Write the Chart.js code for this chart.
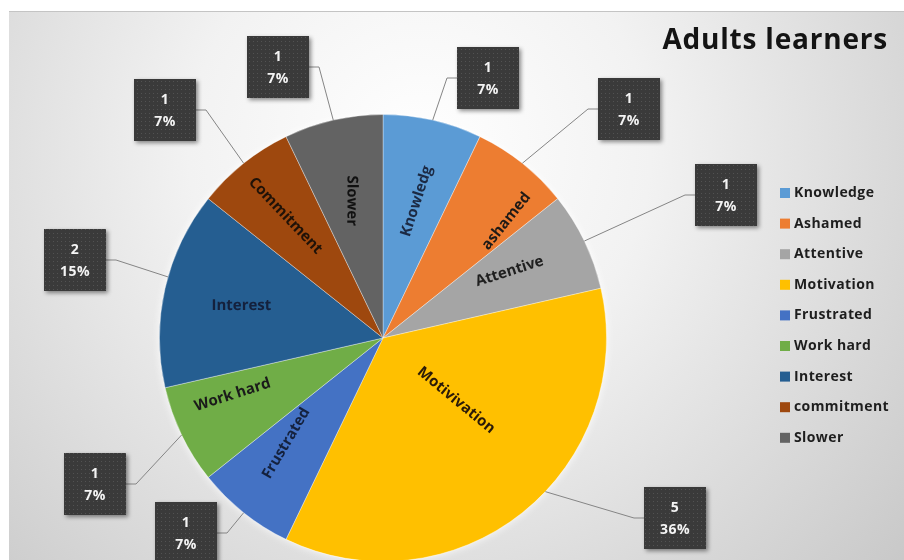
<!DOCTYPE html>
<html><head><meta charset="utf-8">
<script src="https://cdn.jsdelivr.net/npm/chart.js@4.4.1/dist/chart.umd.min.js"></script>
<style>
html,body{margin:0;padding:0;overflow:hidden;background:#fff;}
#wrap{position:relative;width:904px;height:600px;}
</style></head><body>
<div id="wrap"><canvas id="c" width="904" height="600"></canvas></div>
<script>
// ---- data ----
const categories = ['Knowledge','Ashamed','Attentive','Motivation','Frustrated','Work hard','Interest','commitment','Slower'];
const sliceLabels = ['Knowledg','ashamed','Attentive','Motivivation','Frustrated','Work hard','Interest','Commitment','Slower'];
const values = [1,1,1,5,1,1,2,1,1];
const percentLabels = ['7%','7%','7%','36%','7%','7%','15%','7%','7%'];
const titleText = 'Adults learners';

// ---- style ----
const colors = ['#5B9BD5','#ED7D31','#A5A5A5','#FFC000','#4472C4','#70AD47','#255E91','#9E480E','#636363'];
const labelTextColors = ['#1c2a44','#1f1a16','#1f1f1f','#2a1a08','#14213d','#1a1a1a','#14213d','#1f1208','#111111'];
// inside label placement: radial fraction, angular offset (deg), rotation offset (deg)
const labelFrac = [0.63,0.76,0.64,0.43,0.64,0.72,0.65,0.70,0.63];
const labelAngOff = [1,8,-2,-11,4,5,0,0,0];
const labelRotOff = [5,0,8,-12,-8,8,-13,-5,13];
// leader anchor angular offset (deg)
const leaderAngOff = [0,0,0,-8,0,0,3,0,0];
// callout box centres (label placement)
const boxPos = [[488,78],[629,109],[726,195],[675,518],[186,533],[95,484],[75,260],[165,110],[278,67]];
const boxW = 62, boxH = 62;

function makePattern(ctx){
  const p = document.createElement('canvas'); p.width = 4; p.height = 4;
  const g = p.getContext('2d');
  g.fillStyle = '#3a3a3a'; g.fillRect(0,0,4,4);
  g.fillStyle = '#525252'; g.fillRect(1,1,1,1);
  return ctx.createPattern(p,'repeat');
}

const decor = {
  id:'decor',
  beforeDraw(chart){
    const ctx = chart.ctx;
    ctx.save();
    ctx.fillStyle = '#ffffff'; ctx.fillRect(0,0,chart.width,chart.height);
    const g = ctx.createRadialGradient(420,150,0,420,150,660);
    g.addColorStop(0,'#ffffff'); g.addColorStop(0.35,'#f2f2f2'); g.addColorStop(1,'#c6c6c6');
    ctx.fillStyle = g; ctx.fillRect(9,11,895,600);
    ctx.fillStyle = '#c4c4c4'; ctx.fillRect(9,11,895,1);
    ctx.restore();
  },
  beforeDatasetsDraw(chart){
    const a = chart.getDatasetMeta(0).data[0];
    if(!a) return;
    const ctx = chart.ctx;
    ctx.save();
    ctx.shadowColor = 'rgba(255,255,255,0.9)'; ctx.shadowBlur = 8;
    ctx.fillStyle = '#ffffff';
    ctx.beginPath(); ctx.arc(a.x, a.y, a.outerRadius, 0, Math.PI*2); ctx.fill();
    ctx.restore();
  },
  afterDatasetsDraw(chart){
    const ctx = chart.ctx;
    const arcs = chart.getDatasetMeta(0).data;
    ctx.save();
    // inside labels
    arcs.forEach((a,i)=>{
      const mid = (a.startAngle + a.endAngle)/2;
      const pa = mid + labelAngOff[i]*Math.PI/180;
      const r = a.outerRadius*labelFrac[i];
      const x = a.x + Math.cos(pa)*r, y = a.y + Math.sin(pa)*r;
      let rot = mid;
      while(rot > Math.PI) rot -= 2*Math.PI;
      while(rot < -Math.PI) rot += 2*Math.PI;
      if (rot > Math.PI/2) rot -= Math.PI;
      if (rot < -Math.PI/2) rot += Math.PI;
      rot += labelRotOff[i]*Math.PI/180;
      ctx.save();
      ctx.translate(x,y); ctx.rotate(rot);
      ctx.font = 'bold 15px "Open Sans"';
      ctx.fillStyle = labelTextColors[i];
      ctx.textAlign = 'center'; ctx.textBaseline = 'middle';
      ctx.fillText(sliceLabels[i],0,0);
      ctx.restore();
    });
    // leader lines
    ctx.strokeStyle = '#858585'; ctx.lineWidth = 1;
    arcs.forEach((a,i)=>{
      const mid = (a.startAngle + a.endAngle)/2 + leaderAngOff[i]*Math.PI/180;
      const ex = a.x + Math.cos(mid)*a.outerRadius, ey = a.y + Math.sin(mid)*a.outerRadius;
      const [bx,by] = boxPos[i];
      const right = bx < ex;
      const sx = right ? bx + boxW/2 : bx - boxW/2;
      const hx = right ? sx + 10 : sx - 10;
      ctx.beginPath(); ctx.moveTo(sx,by); ctx.lineTo(hx,by); ctx.lineTo(ex,ey); ctx.stroke();
    });
    // callout boxes
    const pat = makePattern(ctx);
    arcs.forEach((a,i)=>{
      const [bx,by] = boxPos[i];
      ctx.save();
      ctx.shadowColor = 'rgba(0,0,0,0.45)'; ctx.shadowBlur = 4; ctx.shadowOffsetX = 2; ctx.shadowOffsetY = 2;
      ctx.fillStyle = pat;
      ctx.fillRect(bx-boxW/2, by-boxH/2, boxW, boxH);
      ctx.restore();
      ctx.font = 'bold 14px "Open Sans"'; ctx.fillStyle = '#f4f4f4';
      ctx.letterSpacing = '0.5px';
      ctx.textAlign = 'center'; ctx.textBaseline = 'middle';
      ctx.fillText(String(values[i]), bx, by-10);
      ctx.fillText(percentLabels[i], bx, by+12);
      ctx.letterSpacing = '0px';
    });
    // legend
    ctx.textAlign = 'left'; ctx.textBaseline = 'middle';
    categories.forEach((c,i)=>{
      const y = 193 + i*30.6;
      ctx.fillStyle = colors[i]; ctx.fillRect(780, y-5, 10, 10);
      ctx.font = 'bold 14px "Open Sans"'; ctx.fillStyle = '#1e1e1e';
      ctx.letterSpacing = '0.4px';
      ctx.fillText(c, 794, y);
      ctx.letterSpacing = '0px';
    });
    // title
    ctx.font = 'bold 28px "Open Sans"'; ctx.fillStyle = '#141414';
    ctx.letterSpacing = '0.8px';
    ctx.textAlign = 'right'; ctx.textBaseline = 'alphabetic';
    ctx.fillText(titleText, 888, 49);
    ctx.letterSpacing = '0px';
    ctx.restore();
  }
};

new Chart(document.getElementById('c'), {
  type:'pie',
  data:{ labels: categories, datasets:[{ data: values, backgroundColor: colors, borderColor:'rgba(255,255,255,0.35)', borderWidth:1 }]},
  options:{
    responsive:false, devicePixelRatio:1, animation:false,
    layout:{ padding:{ left:159, right:297, top:114, bottom:38 } },
    plugins:{ legend:{display:false}, tooltip:{enabled:false}, title:{display:false} }
  },
  plugins:[decor]
});
</script>
</body></html>
